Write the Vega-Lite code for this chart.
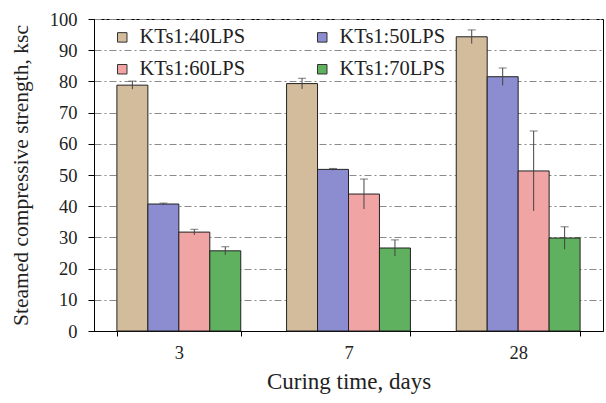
{
  "$schema": "https://vega.github.io/schema/vega-lite/v6.json",
  "width": 509,
  "height": 312,
  "autosize": "none",
  "padding": {"left": 94, "top": 19, "right": 3, "bottom": 72},
  "background": "white",
  "config": {
    "view": {"stroke": "black", "strokeWidth": 1},
    "font": "Liberation Serif",
    "axisY": {
      "titleFont": "Liberation Serif",
      "titleFontSize": 21.5,
      "titleFontWeight": "normal",
      "titleColor": "#222",
      "titlePadding": 17,
      "labelFont": "Liberation Serif",
      "labelFontSize": 18.5,
      "labelColor": "#222",
      "labelPadding": 11,
      "labelOverlap": false,
      "tickSize": 6,
      "tickColor": "black",
      "domainColor": "black",
      "grid": true,
      "gridColor": "#8a8a8a",
      "gridDash": [7, 3, 2, 3],
      "gridWidth": 1
    },
    "axisX": {
      "titleFont": "Liberation Serif",
      "titleFontSize": 23,
      "titleFontWeight": "normal",
      "titleColor": "#222",
      "titlePadding": 9,
      "labelAngle": 0,
      "labelFont": "Liberation Serif",
      "labelFontSize": 18.5,
      "labelColor": "#222",
      "labelPadding": 7,
      "tickBand": "extent",
      "tickSize": 5,
      "tickColor": "black",
      "domainColor": "black",
      "grid": false
    }
  },
  "data": {
    "values": [
      {"day": "3", "series": "KTs1:40LPS", "value": 78.8, "err": 1.3},
      {"day": "3", "series": "KTs1:50LPS", "value": 40.7, "err": 0.3},
      {"day": "3", "series": "KTs1:60LPS", "value": 31.7, "err": 0.9},
      {"day": "3", "series": "KTs1:70LPS", "value": 25.7, "err": 1.3},
      {"day": "7", "series": "KTs1:40LPS", "value": 79.3, "err": 1.7},
      {"day": "7", "series": "KTs1:50LPS", "value": 51.8, "err": 0.3},
      {"day": "7", "series": "KTs1:60LPS", "value": 43.9, "err": 4.8},
      {"day": "7", "series": "KTs1:70LPS", "value": 26.6, "err": 2.6},
      {"day": "28", "series": "KTs1:40LPS", "value": 94.3, "err": 2.2},
      {"day": "28", "series": "KTs1:50LPS", "value": 81.5, "err": 2.8},
      {"day": "28", "series": "KTs1:60LPS", "value": 51.3, "err": 12.8},
      {"day": "28", "series": "KTs1:70LPS", "value": 29.8, "err": 3.6}
    ]
  },
  "transform": [
    {"calculate": "datum.value + datum.err", "as": "hi"},
    {"calculate": "datum.value - datum.err", "as": "lo"}
  ],
  "encoding": {
    "x": {
      "field": "day",
      "type": "nominal",
      "sort": ["3", "7", "28"],
      "scale": {"paddingInner": 0.27, "paddingOuter": 0.135},
      "axis": {"title": "Curing time, days"}
    },
    "xOffset": {
      "field": "series",
      "type": "nominal",
      "scale": {"paddingInner": 0, "paddingOuter": 0}
    }
  },
  "layer": [
    {
      "mark": {"type": "bar", "stroke": "#222", "strokeWidth": 1},
      "encoding": {
        "y": {
          "field": "value",
          "type": "quantitative",
          "scale": {"domain": [0, 100], "nice": false},
          "axis": {
            "title": "Steamed compressive strength, ksc",
            "values": [0, 10, 20, 30, 40, 50, 60, 70, 80, 90, 100]
          }
        },
        "fill": {
          "field": "series",
          "type": "nominal",
          "scale": {
            "domain": ["KTs1:40LPS", "KTs1:50LPS", "KTs1:60LPS", "KTs1:70LPS"],
            "range": ["#d2bc9c", "#8c8cd0", "#f0a4a4", "#5fb05f"]
          },
          "legend": {
            "title": null,
            "orient": "none",
            "legendX": 18,
            "legendY": 8,
            "columns": 2,
            "columnPadding": 66,
            "rowPadding": 11,
            "direction": "horizontal",
            "symbolType": "square",
            "symbolSize": 90,
            "symbolStrokeColor": "#333",
            "symbolStrokeWidth": 1,
            "labelFont": "Liberation Serif",
            "labelFontSize": 20.5,
            "labelColor": "#222",
            "labelOffset": 7,
            "padding": 0
          }
        }
      }
    },
    {
      "mark": {"type": "rule", "color": "#444", "strokeWidth": 1},
      "encoding": {
        "y": {
          "field": "lo",
          "type": "quantitative",
          "axis": {
            "title": "Steamed compressive strength, ksc",
            "values": [0, 10, 20, 30, 40, 50, 60, 70, 80, 90, 100]
          }
        },
        "y2": {"field": "hi"}
      }
    },
    {
      "mark": {"type": "tick", "color": "#444", "size": 8, "thickness": 1},
      "encoding": {
        "y": {
          "field": "hi",
          "type": "quantitative",
          "axis": {
            "title": "Steamed compressive strength, ksc",
            "values": [0, 10, 20, 30, 40, 50, 60, 70, 80, 90, 100]
          }
        }
      }
    }
  ]
}
